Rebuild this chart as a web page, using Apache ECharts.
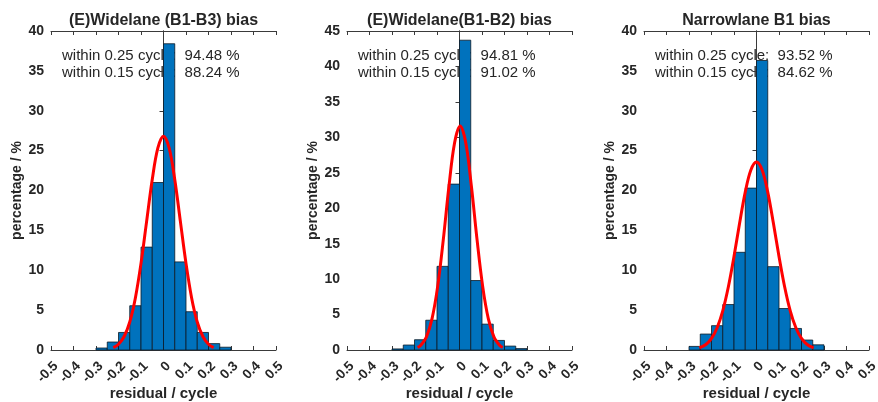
<!DOCTYPE html>
<html>
<head>
<meta charset="utf-8">
<script src="https://cdn.jsdelivr.net/npm/echarts@6/dist/echarts.min.js"></script>
<style>
  html, body { margin: 0; padding: 0; background: #fff; }
  #chart { width: 878px; height: 402px; }
</style>
</head>
<body>
<div id="chart"></div>
<script>
// Histogram bins: left edges, bin width 0.05 cycle
const binLeft = [-0.30, -0.25, -0.20, -0.15, -0.10, -0.05, 0.00, 0.05, 0.10, 0.15, 0.20, 0.25];
const binWidth = 0.05;

// Percentage of residuals in each bin
const wlB1B3 = [0.25, 1.0, 2.2, 5.55, 12.9, 21.0, 38.4, 11.05, 4.8, 2.2, 0.8, 0.35];
const wlB1B2 = [0.15, 0.7, 1.45, 4.2, 11.8, 23.4, 43.7, 9.8, 3.65, 1.35, 0.55, 0.2];
const nlB1   = [0.45, 2.0, 3.05, 5.7, 12.25, 20.3, 36.3, 10.45, 5.2, 2.7, 1.25, 0.65];

// Fitted normal curves (x in cycle, y in %)
const fitX1 = [-0.223, -0.2, -0.175, -0.15, -0.125, -0.1, -0.075, -0.05, -0.025, 0, 0.025, 0.05, 0.075, 0.1, 0.125, 0.15, 0.175, 0.2, 0.223];
const fitY1 = [0.30, 0.72, 1.69, 3.51, 6.53, 10.86, 16.13, 21.38, 25.33, 26.8, 25.33, 21.38, 16.13, 10.86, 6.53, 3.51, 1.69, 0.72, 0.30];
const fitX2 = [-0.186, -0.172, -0.147, -0.122, -0.097, -0.072, -0.047, -0.022, 0.003, 0.028, 0.053, 0.078, 0.103, 0.128, 0.153, 0.178, 0.192];
const fitY2 = [0.35, 0.67, 1.86, 4.42, 8.97, 15.56, 23.06, 29.21, 31.6, 29.21, 23.06, 15.56, 8.97, 4.42, 1.86, 0.67, 0.35];
const fitX3 = [-0.254, -0.225, -0.2, -0.175, -0.15, -0.125, -0.1, -0.075, -0.05, -0.025, 0, 0.025, 0.05, 0.075, 0.1, 0.125, 0.15, 0.175, 0.2, 0.225, 0.254];
const fitY3 = [0.26, 0.69, 1.45, 2.79, 4.91, 7.93, 11.73, 15.92, 19.79, 22.56, 23.56, 22.56, 19.79, 15.92, 11.73, 7.93, 4.91, 2.79, 1.45, 0.69, 0.26];

// Panel texts
const titles = ['(E)Widelane (B1-B3) bias', '(E)Widelane(B1-B2) bias', 'Narrowlane B1 bias'];
const within25 = ['94.48', '94.81', '93.52'];
const within15 = ['88.24', '91.02', '84.62'];
const yMax = [40, 45, 40];
const yStep = 5;
const xMin = -0.5, xMax = 0.5, xStep = 0.1;

const panels = [
  { hist: wlB1B3, fx: fitX1, fy: fitY1 },
  { hist: wlB1B2, fx: fitX2, fy: fitY2 },
  { hist: nlB1,   fx: fitX3, fy: fitY3 }
];

const gridLeft = [51, 347, 644];
const gridTop = 31, gridW = 225, gridH = 319;

const axisColor = '#3a3a3a';
const textColor = '#262626';
const fontFam = '"Liberation Sans", Arial, sans-serif';

const grids = [], xAxes = [], yAxes = [], series = [], graphics = [];

panels.forEach((p, i) => {
  grids.push({
    left: gridLeft[i], top: gridTop, width: gridW, height: gridH,
    containLabel: false, outerBoundsMode: 'none'
  });

  const tickStyle = { show: true, inside: true, length: 4, lineStyle: { color: axisColor, width: 1 } };
  const lineStyle = { show: true, lineStyle: { color: axisColor, width: 1 } };

  // bottom x axis with labels
  xAxes.push({
    type: 'value', gridIndex: i, position: 'bottom', min: xMin, max: xMax, interval: xStep,
    axisLine: Object.assign({ onZero: false }, lineStyle), axisTick: tickStyle, splitLine: { show: false },
    axisLabel: {
      rotate: 45, margin: 9, color: textColor, fontWeight: 'bold', fontSize: 13.5, fontFamily: fontFam,
      align: 'right', verticalAlign: 'top',
      formatter: v => (Math.abs(v) < 1e-9 ? '0' : v.toFixed(1))
    },
    name: 'residual / cycle', nameLocation: 'middle', nameGap: 36, nameMoveOverlap: false,
    nameTextStyle: { color: textColor, fontWeight: 'bold', fontSize: 15, fontFamily: fontFam }
  });
  // top x axis: frame + ticks only
  xAxes.push({
    type: 'value', gridIndex: i, position: 'top', min: xMin, max: xMax, interval: xStep,
    axisLine: Object.assign({ onZero: false }, lineStyle), axisTick: tickStyle,
    axisLabel: { show: false }, splitLine: { show: false }
  });
  // left y axis with labels
  yAxes.push({
    type: 'value', gridIndex: i, position: 'left', min: 0, max: yMax[i], interval: yStep,
    axisLine: lineStyle, axisTick: tickStyle, splitLine: { show: false },
    axisLabel: { margin: 7, color: textColor, fontWeight: 'bold', fontSize: 14, fontFamily: fontFam },
    name: 'percentage / %', nameLocation: 'middle', nameGap: 27, nameRotate: 90, nameMoveOverlap: false,
    nameTextStyle: { color: textColor, fontWeight: 'bold', fontSize: 14, fontFamily: fontFam }
  });
  // right y axis: frame + ticks only
  yAxes.push({
    type: 'value', gridIndex: i, position: 'right', min: 0, max: yMax[i], interval: yStep,
    axisLine: lineStyle, axisTick: tickStyle, axisLabel: { show: false }, splitLine: { show: false }
  });

  // histogram bars
  series.push({
    type: 'custom', xAxisIndex: 2 * i, yAxisIndex: 2 * i, z: 3,
    data: binLeft.map((b, k) => [b, b + binWidth, p.hist[k]]),
    renderItem: (params, api) => {
      const p0 = api.coord([api.value(0), 0]);
      const p1 = api.coord([api.value(1), api.value(2)]);
      return {
        type: 'rect',
        shape: { x: p0[0], y: p1[1], width: p1[0] - p0[0], height: p0[1] - p1[1] },
        style: { fill: '#0072BD', stroke: '#0d1a26', lineWidth: 0.8 }
      };
    },
    silent: true
  });

  // fitted normal curve
  series.push({
    type: 'line', xAxisIndex: 2 * i, yAxisIndex: 2 * i, z: 5,
    data: p.fx.map((x, k) => [x, p.fy[k]]),
    smooth: 0.35, showSymbol: false, symbol: 'none',
    lineStyle: { color: '#ff0000', width: 3 }, silent: true
  });

  // title
  graphics.push({
    type: 'text', z: 10,
    x: gridLeft[i] + gridW / 2, y: 21,
    style: {
      text: titles[i], textAlign: 'center', textVerticalAlign: 'middle',
      font: 'bold 16px ' + fontFam, fill: textColor
    }
  });
  // accuracy statistics, drawn beneath the bars
  graphics.push({
    type: 'text', z: 0, zlevel: 0,
    x: gridLeft[i] + 11, y: 47,
    style: {
      text: 'within 0.25 cycle:  ' + within25[i] + ' %\nwithin 0.15 cycle:  ' + within15[i] + ' %',
      textAlign: 'left', textVerticalAlign: 'top', lineHeight: 17,
      font: '15px ' + fontFam, fill: textColor
    }
  });
});

const chart = echarts.init(document.getElementById('chart'), null, { renderer: 'canvas' });
chart.setOption({
  animation: false,
  backgroundColor: '#ffffff',
  grid: grids,
  xAxis: xAxes,
  yAxis: yAxes,
  series: series,
  graphic: graphics
});
</script>
</body>
</html>
